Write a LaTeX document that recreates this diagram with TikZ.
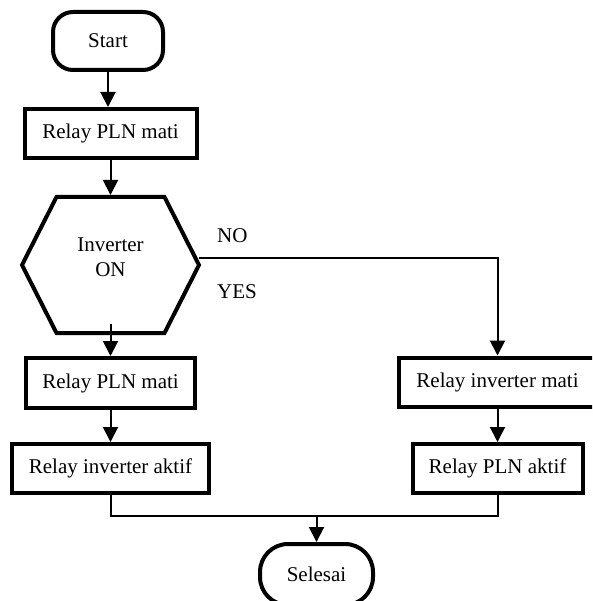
\documentclass[tikz,border=0pt]{standalone}
\usepackage{fontspec}
\setmainfont{Liberation Serif}
\usetikzlibrary{arrows.meta, calc, positioning}
\tikzstyle{arrow} = [line width=2pt,-{Triangle[width=15pt,length=15pt]}]
\tikzstyle{link} = [line width=2pt]
\tikzset{
  block/.style = {
    draw,
    rectangle,
    line width     = 4pt,
    minimum height = 49pt,
    inner sep      = 0pt,
    align          = center,
    font           = \fontsize{21}{25}\selectfont
  },
  terminal/.style = {block, rounded corners = 20pt},
  tag/.style      = {anchor = base west, inner sep = 0pt, font = \fontsize{21}{25}\selectfont}
}

\begin{document}
\begin{tikzpicture}[x=1pt, y=-1pt]
\useasboundingbox (0,0) rectangle (592,601);
\clip (0,0) rectangle (592,601);

% Left column: start, first relay, decision
\node (start) at (108, 41) [terminal, minimum width=110pt, minimum height=58pt] {Start};
\node (box1) at (110.5, 133.5) [block, minimum width=172pt] {Relay PLN mati};
\node (dec) at (110.5, 257.5) [align=center, inner sep=0pt, font=\fontsize{21}{25}\selectfont] {Inverter\\ON};
\coordinate (hexW)  at ($(dec)+(-88.5, 7.5)$);
\coordinate (hexNW) at ($(dec)+(-54, -60.5)$);
\coordinate (hexNE) at ($(dec)+(54, -60.5)$);
\coordinate (hexE)  at ($(dec)+(88.5, 7.5)$);
\coordinate (hexSE) at ($(dec)+(54, 75.5)$);
\coordinate (hexSW) at ($(dec)+(-54, 75.5)$);
\coordinate (hexN)   at ($(dec)+(0, -62.5)$);
\coordinate (hexIn)  at ($(dec)+(0, 66.5)$);
\coordinate (hexOut) at ($(dec)+(88, 0)$);
\draw[line width=4pt] (hexW) -- (hexNW) -- (hexNE) -- (hexE) -- (hexSE) -- (hexSW) -- cycle;

% YES branch
\node (box2) at (110.5, 383) [block, minimum width=169pt, minimum height=50pt] {Relay PLN mati};
\node (box4) at (110.5, 468.5) [block, minimum width=197pt] {Relay inverter aktif};

% NO branch
\node (box3) at (497.5, 382) [block, minimum width=198pt] {Relay inverter mati};
\node (box5) at (497.5, 468.5) [block, minimum width=170pt] {Relay PLN aktif};

\node (lblno) at (217, 243) [tag] {NO};
\node (lblyes) at (217, 298) [tag] {YES};

% End
\node (end) at (316.5, 574.5) [terminal, rounded corners=28pt, minimum width=113pt, minimum height=61pt] {Selesai};
\coordinate (merge) at (316.5, 516);

% Connectors
\draw[arrow] (start) -- (start |- box1.north);
\draw[arrow] (box1) -- (hexN);
\draw[arrow] (hexIn) -- (box2);
\draw[arrow] (hexOut) -| (box3);
\draw[arrow] (box2) -- (box4);
\draw[arrow] (box3) -- (box5);
\draw[link] (box4) |- (merge) -| (box5);
\draw[arrow] (merge) -- (end);
\end{tikzpicture}
\end{document}
